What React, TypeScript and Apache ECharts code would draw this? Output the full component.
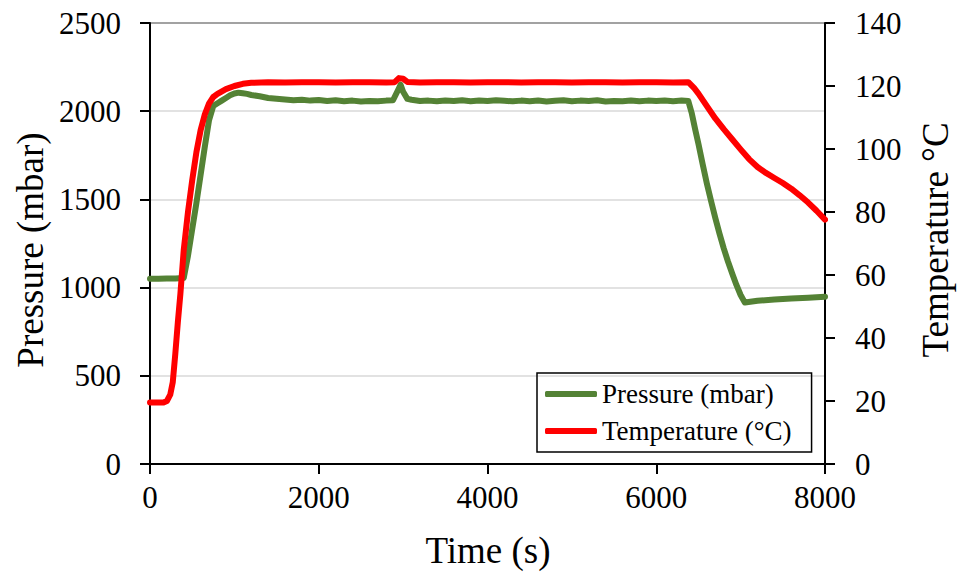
import React, { useEffect, useRef } from "react";
import * as echarts from "echarts";

const timeTicks = [0, 2000, 4000, 6000, 8000];
const pressureTicks = [0, 500, 1000, 1500, 2000, 2500];
const temperatureTicks = [0, 20, 40, 60, 80, 100, 120, 140];

const seriesNames = ["Pressure (mbar)", "Temperature (°C)"];

// [time (s), pressure (mbar)]
const pressureData: [number, number][] = [
  [0, 1050], [100, 1050], [200, 1052], [300, 1052], [400, 1055],
  [450, 1180], [500, 1330], [550, 1480], [600, 1640], [650, 1800],
  [700, 1950], [750, 2030], [800, 2045], [850, 2060], [900, 2075],
  [950, 2090], [1000, 2100], [1050, 2105], [1100, 2102], [1150, 2098],
  [1200, 2092], [1300, 2085], [1400, 2075], [1500, 2070], [1600, 2066],
  [1700, 2062], [1800, 2065], [1900, 2060], [2000, 2063], [2100, 2058],
  [2200, 2062], [2300, 2057], [2400, 2060], [2500, 2055], [2600, 2058],
  [2700, 2056], [2800, 2060], [2880, 2062], [2940, 2120], [2970, 2150],
  [3000, 2110], [3050, 2070], [3100, 2065], [3200, 2058], [3300, 2060],
  [3400, 2056], [3500, 2061], [3600, 2058], [3700, 2062], [3800, 2057],
  [3900, 2060], [4000, 2058], [4100, 2062], [4200, 2059], [4300, 2056],
  [4400, 2060], [4500, 2057], [4600, 2061], [4700, 2055], [4800, 2059],
  [4900, 2062], [5000, 2056], [5100, 2060], [5200, 2058], [5300, 2062],
  [5400, 2055], [5500, 2058], [5600, 2057], [5700, 2061], [5800, 2056],
  [5900, 2060], [6000, 2058], [6100, 2061], [6200, 2057], [6300, 2060],
  [6380, 2058], [6420, 1990], [6460, 1900], [6500, 1815], [6550, 1700],
  [6600, 1590], [6650, 1490], [6700, 1395], [6750, 1305], [6800, 1222],
  [6850, 1148], [6900, 1080], [6950, 1015], [7000, 958], [7050, 915],
  [7200, 925], [7400, 932], [7600, 938], [7800, 943], [8000, 948],
];

// [time (s), temperature (°C)]
const temperatureData: [number, number][] = [
  [0, 19.5], [100, 19.5], [160, 19.5], [200, 20], [240, 22], [270, 26],
  [300, 35], [330, 45], [360, 54], [400, 68], [450, 80], [500, 90],
  [550, 99], [600, 106], [650, 111], [700, 114.5], [750, 116.5],
  [800, 117.5], [900, 119], [1000, 120], [1100, 120.7], [1200, 121],
  [1400, 121.2], [1600, 121.1], [1800, 121.2], [2000, 121.2], [2200, 121.1],
  [2400, 121.2], [2600, 121.2], [2800, 121.1], [2900, 121.2], [2950, 122.5],
  [3000, 122.3], [3050, 121.3], [3200, 121.1], [3400, 121.2], [3600, 121.2],
  [3800, 121.1], [4000, 121.2], [4200, 121.2], [4400, 121.1], [4600, 121.2],
  [4800, 121.2], [5000, 121.1], [5200, 121.2], [5400, 121.2], [5600, 121.1],
  [5800, 121.2], [6000, 121.2], [6200, 121.1], [6380, 121.2], [6450, 119.3],
  [6500, 117.6], [6600, 113.6], [6700, 109.7], [6800, 106.3], [6900, 103.1],
  [7000, 99.9], [7100, 96.8], [7200, 94.3], [7300, 92.4], [7400, 90.8],
  [7500, 89.2], [7600, 87.4], [7700, 85.3], [7800, 83], [7900, 80.4],
  [8000, 77.6],
];

const FONT = '"Liberation Serif", "Times New Roman", serif';

export default function App() {
  const ref = useRef<HTMLDivElement>(null);

  useEffect(() => {
    if (!ref.current) return;
    const chart = echarts.init(ref.current, undefined, { renderer: "svg" });
    const axisLabel = {
      color: "#000",
      fontFamily: FONT,
      fontSize: 31,
      formatter: (v: number) => String(v),
    };
    chart.setOption({
      animation: false,
      backgroundColor: "#fff",
      grid: {
        left: 150,
        right: 136,
        top: 23,
        bottom: 113,
        show: true,
        borderColor: "#000",
        borderWidth: 2,
        backgroundColor: "transparent",
      },
      legend: {
        data: seriesNames,
        orient: "vertical",
        left: 537,
        top: 373,
        padding: [6, 20, 6, 8],
        itemGap: 7,
        itemWidth: 52,
        itemHeight: 6,
        icon: "roundRect",
        borderColor: "#000",
        borderWidth: 1.5,
        textStyle: { color: "#000", fontFamily: FONT, fontSize: 27, lineHeight: 30 },
      },
      xAxis: {
        type: "value",
        min: timeTicks[0],
        max: timeTicks[timeTicks.length - 1],
        interval: 2000,
        axisLine: { show: true, lineStyle: { color: "#000", width: 2 } },
        axisTick: { show: true, length: 10, lineStyle: { color: "#000", width: 2 } },
        axisLabel: { ...axisLabel, margin: 18 },
        splitLine: { show: false },
      },
      yAxis: [
        {
          type: "value",
          min: pressureTicks[0],
          max: pressureTicks[pressureTicks.length - 1],
          interval: 500,
          axisLine: { show: true, lineStyle: { color: "#000", width: 2 } },
          axisTick: { show: true, length: 10, lineStyle: { color: "#000", width: 2 } },
          axisLabel: { ...axisLabel, margin: 29 },
          splitLine: { show: true, lineStyle: { color: "#d9d9d9", width: 1.5 } },
        },
        {
          type: "value",
          position: "right",
          min: temperatureTicks[0],
          max: temperatureTicks[temperatureTicks.length - 1],
          interval: 20,
          axisLine: { show: true, lineStyle: { color: "#000", width: 2 } },
          axisTick: { show: true, length: 10, lineStyle: { color: "#000", width: 2 } },
          axisLabel: { ...axisLabel, margin: 30 },
          splitLine: { show: false },
        },
      ],
      graphic: [
        {
          type: "text",
          x: 30,
          y: 250,
          rotation: Math.PI / 2,
          style: {
            text: "Pressure (mbar)",
            font: `37px ${FONT}`,
            fill: "#000",
            textAlign: "center",
            textVerticalAlign: "middle",
          },
        },
        {
          type: "text",
          x: 935,
          y: 240,
          rotation: Math.PI / 2,
          style: {
            text: "Temperature °C",
            font: `37px ${FONT}`,
            fill: "#000",
            textAlign: "center",
            textVerticalAlign: "middle",
          },
        },
        {
          type: "text",
          x: 488,
          y: 550,
          style: {
            text: "Time (s)",
            font: `37px ${FONT}`,
            fill: "#000",
            textAlign: "center",
            textVerticalAlign: "middle",
          },
        },
      ],
      series: [
        {
          name: seriesNames[0],
          type: "line",
          yAxisIndex: 0,
          data: pressureData,
          showSymbol: false,
          color: "#548235",
          lineStyle: { color: "#548235", width: 6, cap: "round", join: "round" },
        },
        {
          name: seriesNames[1],
          type: "line",
          yAxisIndex: 1,
          data: temperatureData,
          showSymbol: false,
          color: "#ff0000",
          lineStyle: { color: "#ff0000", width: 6, cap: "round", join: "round" },
        },
      ],
    });
    return () => chart.dispose();
  }, []);

  return <div ref={ref} style={{ width: 961, height: 577, position: "absolute", left: 0, top: 0 }} />;
}
